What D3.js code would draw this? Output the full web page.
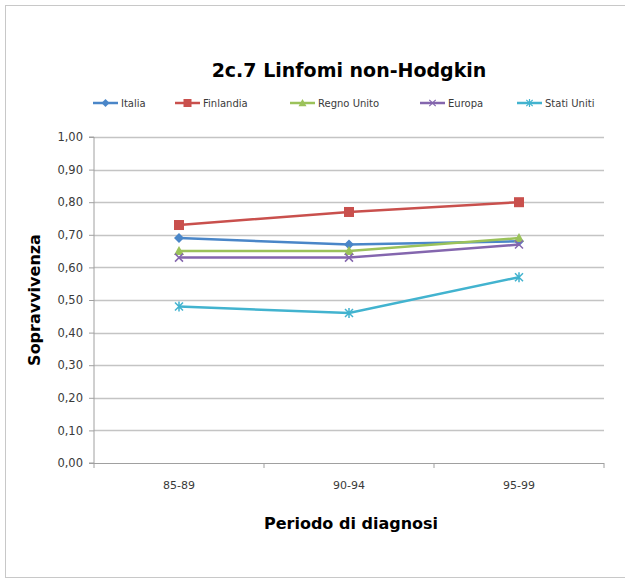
<!DOCTYPE html>
<html>
<head>
<meta charset="utf-8">
<script src="https://cdn.jsdelivr.net/npm/d3@7"></script>
<style>
  body { margin: 0; background: #fff; }
  text { font-family: "DejaVu Sans", Verdana, sans-serif; }
</style>
</head>
<body>
<div id="chart"></div>
<script>
var periods = ['85-89', '90-94', '95-99'];
var yTicks = [0, 0.1, 0.2, 0.3, 0.4, 0.5, 0.6, 0.7, 0.8, 0.9, 1.0];

var italia = [0.69, 0.67, 0.68];
var finlandia = [0.73, 0.77, 0.80];
var regnoUnito = [0.65, 0.65, 0.69];
var europa = [0.63, 0.63, 0.67];
var statiUniti = [0.48, 0.46, 0.57];

var series = [
    {name: 'Italia', values: italia, color: '#4A86C8', marker: 'diamond'},
    {name: 'Finlandia', values: finlandia, color: '#C9504D', marker: 'square'},
    {name: 'Regno Unito', values: regnoUnito, color: '#9BC25A', marker: 'triangle'},
    {name: 'Europa', values: europa, color: '#8466AE', marker: 'x'},
    {name: 'Stati Uniti', values: statiUniti, color: '#42B3CF', marker: 'star'}
];

var svg = d3.select('#chart')
    .append('svg')
    .attr('width', 625)
    .attr('height', 583);

// outer frame
svg.append('rect')
    .attr('x', 5.5).attr('y', 5.5)
    .attr('width', 640).attr('height', 572)
    .attr('fill', 'none')
    .attr('stroke', '#c8c8c8');

var plotLeft = 94, plotRight = 604, plotTop = 137, plotBottom = 463;

var x = d3.scaleBand().domain(periods).range([plotLeft, plotRight]);
var y = d3.scaleLinear().domain([0, 1]).range([plotBottom, plotTop]);

// gridlines
svg.append('g')
    .selectAll('line')
    .data(yTicks.slice(1))
    .enter().append('line')
    .attr('x1', plotLeft).attr('x2', plotRight)
    .attr('y1', function(d) { return Math.round(y(d)) + 0.5; })
    .attr('y2', function(d) { return Math.round(y(d)) + 0.5; })
    .attr('stroke', '#c4c4c4')
    .attr('stroke-width', 1.6);

var yAxis = d3.axisLeft(y)
    .tickValues(yTicks)
    .tickSize(5)
    .tickPadding(6)
    .tickFormat(function(d) { return d3.format('.2f')(d).replace('.', ','); });

var gy = svg.append('g')
    .attr('transform', 'translate(' + plotLeft + ',0)')
    .call(yAxis);
gy.select('.domain').attr('stroke', '#a0a0a0').attr('d', 'M-5,' + plotTop + 'H0V' + plotBottom + 'H-5');
gy.selectAll('.tick line').attr('stroke', '#a0a0a0');
gy.selectAll('.tick text').attr('fill', '#3a3a3a').style('font-size', '11.5px');

var gx = svg.append('g')
    .attr('transform', 'translate(0,' + plotBottom + ')');
gx.append('line')
    .attr('x1', plotLeft).attr('x2', plotRight)
    .attr('y1', 0.5).attr('y2', 0.5)
    .attr('stroke', '#a0a0a0');
gx.selectAll('line.tk')
    .data(periods.concat(['end']))
    .enter().append('line')
    .attr('class', 'tk')
    .attr('x1', function(d, i) { return plotLeft + i * x.bandwidth(); })
    .attr('x2', function(d, i) { return plotLeft + i * x.bandwidth(); })
    .attr('y1', 0).attr('y2', 5)
    .attr('stroke', '#a0a0a0');
gx.selectAll('text')
    .data(periods)
    .enter().append('text')
    .attr('x', function(d) { return x(d) + x.bandwidth() / 2; })
    .attr('y', 26)
    .attr('text-anchor', 'middle')
    .attr('fill', '#3a3a3a')
    .style('font-size', '11px')
    .text(function(d) { return d; });

// titles
svg.append('text')
    .attr('x', 349).attr('y', 77)
    .attr('text-anchor', 'middle')
    .style('font-size', '19px').style('font-weight', 'bold')
    .text('2c.7 Linfomi non-Hodgkin');

svg.append('text')
    .attr('x', 351).attr('y', 529)
    .attr('text-anchor', 'middle')
    .style('font-size', '16px').style('font-weight', 'bold')
    .text('Periodo di diagnosi');

svg.append('text')
    .attr('transform', 'translate(40,300) rotate(-90)')
    .attr('text-anchor', 'middle')
    .style('font-size', '16px').style('font-weight', 'bold')
    .text('Sopravvivenza');

function drawMarker(g, type, color) {
    if (type == 'diamond') {
        g.append('path').attr('d', 'M0,-5L5,0L0,5L-5,0Z').attr('fill', color);
    } else if (type == 'square') {
        g.append('rect').attr('x', -5).attr('y', -5).attr('width', 10).attr('height', 10).attr('fill', color);
    } else if (type == 'triangle') {
        g.append('path').attr('d', 'M0,-5L5,4L-5,4Z').attr('fill', color);
    } else if (type == 'x') {
        g.append('path').attr('d', 'M-4,-4L4,4M-4,4L4,-4').attr('stroke', color).attr('stroke-width', 1.5);
    } else if (type == 'star') {
        g.append('path').attr('d', 'M-4,-4L4,4M-4,4L4,-4M0,-5V5').attr('stroke', color).attr('stroke-width', 1.5);
    }
}

var line = d3.line()
    .x(function(d, i) { return x(periods[i]) + x.bandwidth() / 2; })
    .y(function(d) { return y(d); });

series.forEach(function(s) {
    svg.append('path')
        .attr('d', line(s.values))
        .attr('fill', 'none')
        .attr('stroke', s.color)
        .attr('stroke-width', 2.5);
    s.values.forEach(function(v, i) {
        var g = svg.append('g')
            .attr('transform', 'translate(' + (x(periods[i]) + x.bandwidth() / 2) + ',' + y(v) + ')');
        drawMarker(g, s.marker, s.color);
    });
});

// legend
var legendX = [93, 175, 290, 420, 517];
series.forEach(function(s, i) {
    var g = svg.append('g').attr('transform', 'translate(' + legendX[i] + ',103)');
    g.append('line').attr('x1', 0).attr('x2', 25).attr('stroke', s.color).attr('stroke-width', 2.5);
    var m = g.append('g').attr('transform', 'translate(12.5,0) scale(0.8)');
    drawMarker(m, s.marker, s.color);
    g.append('text')
        .attr('x', 28).attr('y', 4)
        .attr('fill', '#3a3a3a')
        .style('font-size', '10px')
        .text(s.name);
});
</script>
</body>
</html>
